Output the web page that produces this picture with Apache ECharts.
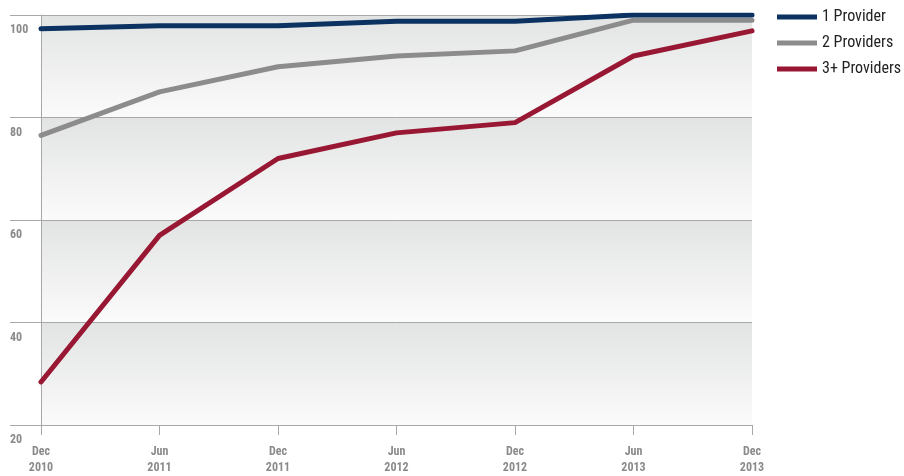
<!DOCTYPE html>
<html><head><meta charset="utf-8">
<script src="https://cdn.jsdelivr.net/npm/echarts@6/dist/echarts.min.js"></script>
<style>html,body{margin:0;padding:0;background:#fff}#c{width:904px;height:476px}</style>
</head><body><div id="c"></div>
<script>
const categories = ['Dec\n2010','Jun\n2011','Dec\n2011','Jun\n2012','Dec\n2012','Jun\n2013','Dec\n2013'];
const oneProvider = [97.3, 97.9, 97.9, 98.8, 98.8, 100, 100];
const twoProviders = [76.5, 85, 89.9, 92, 93, 99, 99];
const threePlusProviders = [28.4, 57, 72, 77, 79, 92, 96.9];
const bands = [[80,100],[60,80],[40,60],[20,40]];
const FONT = '"Liberation Sans Narrow","Roboto Condensed","Liberation Sans",sans-serif';
const grad = {type:'linear',x:0,y:0,x2:0,y2:1,colorStops:[{offset:0,color:'#e2e3e3'},{offset:1,color:'#fbfbfb'}]};
const chart = echarts.init(document.getElementById('c'));
const lineStyle = (c)=>({width:5,color:c,cap:'round',join:'round'});
chart.setOption({
  animation:false,
  grid:{left:41,right:152,top:15,bottom:50,containLabel:false},
  legend:{
    orient:'vertical',left:772,top:4,itemWidth:40,itemHeight:5,itemGap:10,
    icon:'rect',
    textStyle:{fontFamily:FONT,fontSize:16,color:'#222'},
    data:['1 Provider','2 Providers','3+ Providers']
  },
  xAxis:{
    type:'category',data:categories,boundaryGap:false,z:2,
    axisLine:{lineStyle:{color:'#a8a8a8',width:1}},
    axisTick:{length:10,lineStyle:{color:'#a8a8a8'}},
    axisLabel:{fontFamily:FONT,fontWeight:'bold',fontSize:12,color:'#8a8a8a',margin:19,lineHeight:16,interval:0}
  },
  yAxis:{
    type:'value',min:20,max:100,interval:20,z:2,
    axisLine:{show:true,lineStyle:{color:'#a8a8a8'}},
    axisTick:{show:true,length:31,lineStyle:{color:'#a8a8a8'}},
    splitLine:{show:true,lineStyle:{color:'#a8a8a8'}},
    axisLabel:{fontFamily:FONT,fontWeight:'bold',fontSize:12,color:'#8a8a8a',align:'left',margin:31,verticalAlign:'top',padding:[9,0,0,0]}
  },
  series:[
    {name:'bands',type:'line',data:[],silent:true,z:-5,
     markArea:{silent:true,z:-5,itemStyle:{color:grad},data:bands.map(b=>[{yAxis:b[1]},{yAxis:b[0]}])}},
    {name:'2 Providers',type:'line',data:twoProviders,symbol:'none',lineStyle:lineStyle('#8c8c8c'),itemStyle:{color:'#8c8c8c'},z:3},
    {name:'3+ Providers',type:'line',data:threePlusProviders,symbol:'none',lineStyle:lineStyle('#981733'),itemStyle:{color:'#981733'},z:4},
    {name:'1 Provider',type:'line',data:oneProvider,symbol:'none',lineStyle:lineStyle('#0c3262'),itemStyle:{color:'#0c3262'},z:5}
  ]
});
</script></body></html>
